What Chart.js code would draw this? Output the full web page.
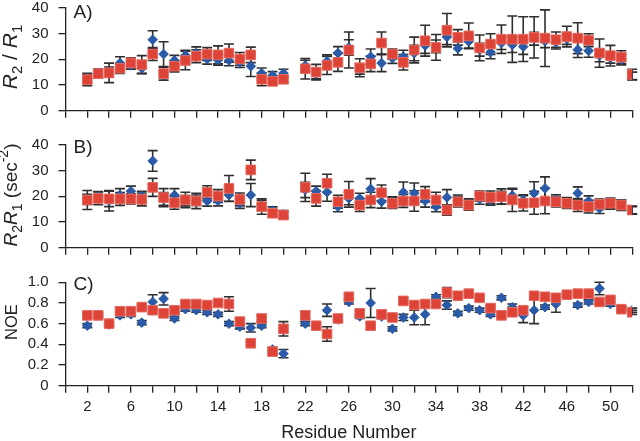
<!DOCTYPE html>
<html>
<head>
<meta charset="utf-8">
<title>Relaxation data</title>
<script src="https://cdn.jsdelivr.net/npm/chart.js@4/dist/chart.umd.min.js"></script>
<style>
  html, body { margin: 0; padding: 0; background: #fff; }
  #wrap { position: relative; width: 640px; height: 441px; overflow: hidden; }
  #wrap canvas { position: absolute; left: 0; }
</style>
</head>
<body>
<div id="wrap">
  <canvas id="panelA" width="640" height="130" style="top:0px"></canvas>
  <canvas id="panelB" width="640" height="135" style="top:130px"></canvas>
  <canvas id="panelC" width="640" height="176" style="top:265px"></canvas>
</div>
<script>
'use strict';

/* ── Data (residue 21 has no value) ── */
const residues = [2,3,4,5,6,7,8,9,10,11,12,13,14,15,16,17,18,19,20,
  22,23,24,25,26,27,28,29,30,31,32,33,34,35,36,37,38,39,40,41,42,43,44,45,46,47,48,49,50,51,52];

// A) R2 / R1
const ratioRed = [12.1,14.4,14.7,16.5,18.6,17.9,22.0,14.4,17.3,19.5,21.2,22.0,21.7,22.4,20.1,21.7,12.2,11.4,12.2,
  16.3,15.0,17.6,18.8,23.6,16.7,18.2,26.3,22.0,18.8,23.6,27.2,24.6,31.3,28.5,29.1,24.4,25.9,27.8,27.8,27.8,28.5,28.2,27.6,28.8,28.2,27.4,22.4,21.4,20.8,14.1];
const ratioRedErr = [2.4,1.8,3.8,2.0,2.0,3.5,2.5,2.5,2.2,3.6,2.5,2.5,3.5,3.5,2.5,3.0,2.5,1.5,1.5,
  4.0,3.0,3.5,3.5,7.0,3.5,3.0,4.3,2.0,3.0,5.0,6.0,5.0,6.5,3.0,5.0,5.0,4.0,5.5,9.0,8.7,8.0,11.0,3.0,4.0,6.0,2.5,5.5,4.0,2.5,2.0];
const ratioBlue = [12.5,14.6,15.0,18.5,17.6,16.5,27.6,22.0,19.5,21.5,22.3,20.1,19.7,19.5,18.8,17.3,14.6,13.7,14.6,
  17.6,14.4,19.2,22.4,24.6,16.2,21.0,18.5,20.4,21.0,22.4,25.3,25.0,28.7,24.2,26.9,23.7,22.7,26.3,25.6,24.9,28.0,27.0,26.5,27.8,23.7,23.3,21.5,20.5,19.8,13.5];
const ratioBlueErr = [1.5,1.5,2.0,2.5,1.5,2.0,3.5,4.8,2.0,2.0,2.5,2.0,2.0,2.0,2.0,4.0,2.0,1.5,1.5,
  2.0,2.0,2.5,2.5,3.0,2.0,3.0,3.3,2.0,2.5,3.0,3.0,2.5,3.0,2.5,2.5,2.5,2.5,2.5,3.0,3.0,2.5,2.5,2.5,2.0,3.0,2.5,2.5,2.0,2.0,1.5];

// B) R2R1
const productRed = [18.6,19.2,19.0,19.0,19.0,18.8,23.5,19.5,17.5,18.6,18.2,21.6,20.1,23.1,18.8,30.3,16.0,13.4,12.7,
  23.5,19.2,25.1,17.9,20.8,16.6,18.6,21.4,17.3,18.2,18.2,20.8,18.6,14.7,17.9,16.6,20.1,19.6,19.9,18.6,17.3,17.5,18.2,17.9,17.3,16.6,16.0,16.9,17.3,16.6,14.7];
const productRedErr = [3.7,2.5,3.0,2.5,2.0,2.5,3.5,3.5,2.5,3.0,3.0,2.5,2.5,5.0,2.5,3.8,3.0,1.5,1.5,
  5.5,3.0,3.5,2.5,5.0,2.5,3.0,3.0,2.0,2.5,4.0,3.0,3.0,2.0,2.0,2.0,2.0,2.5,3.0,4.5,3.0,4.5,5.0,2.0,2.0,2.5,2.5,2.0,2.0,2.0,1.5];
const productBlue = [18.8,19.9,18.3,20.5,22.0,20.0,33.8,19.0,20.5,18.3,18.5,18.2,18.3,20.5,17.3,20.5,16.5,14.4,13.0,
  22.5,22.0,21.6,16.0,19.2,19.2,22.9,17.9,17.8,21.6,21.2,18.3,16.0,19.6,18.5,17.0,18.9,18.6,19.5,20.3,18.6,21.2,23.1,18.6,17.5,21.2,18.2,15.3,17.0,16.5,14.5];
const productBlueErr = [2.0,2.0,4.0,2.5,2.0,2.0,4.0,2.5,2.5,2.0,2.0,2.0,2.0,2.5,2.0,4.5,2.0,1.5,1.5,
  3.0,2.0,3.5,2.0,2.5,2.0,4.0,2.5,2.0,4.0,4.0,2.5,2.0,3.0,2.0,2.0,2.0,2.0,2.5,2.5,2.0,4.5,4.5,2.0,2.0,2.5,2.0,2.0,2.0,2.0,1.5];

// C) NOE
const noeRed = [0.68,0.68,0.60,0.72,0.72,0.76,0.73,0.70,0.73,0.79,0.79,0.78,0.80,0.79,0.62,0.41,0.65,0.33,0.55,
  0.68,0.58,0.50,0.65,0.86,0.70,0.58,0.69,0.66,0.82,0.78,0.79,0.79,0.90,0.87,0.89,0.85,0.75,0.68,0.71,0.73,0.87,0.86,0.85,0.88,0.89,0.89,0.81,0.83,0.74,0.71];
const noeRedErr = [0.02,0.02,0.02,0.03,0.03,0.02,0.03,0.03,0.03,0.02,0.02,0.02,0.02,0.07,0.03,0.02,0.03,0.02,0.07,
  0.04,0.02,0.07,0.02,0.02,0.03,0.03,0.03,0.02,0.02,0.03,0.03,0.02,0.05,0.02,0.02,0.02,0.02,0.02,0.02,0.03,0.02,0.02,0.02,0.02,0.02,0.02,0.03,0.02,0.02,0.02];
const noeBlue = [0.58,0.68,0.59,0.68,0.69,0.61,0.81,0.84,0.65,0.74,0.73,0.71,0.69,0.60,0.57,0.56,0.58,0.35,0.31,
  0.60,0.58,0.73,0.64,0.81,0.67,0.80,0.67,0.55,0.66,0.66,0.69,0.86,0.78,0.70,0.75,0.73,0.69,0.85,0.76,0.68,0.73,0.76,0.79,0.88,0.78,0.81,0.94,0.79,0.74,0.73];
const noeBlueErr = [0.02,0.02,0.02,0.02,0.02,0.02,0.07,0.06,0.02,0.02,0.02,0.02,0.02,0.02,0.02,0.04,0.02,0.02,0.04,
  0.02,0.02,0.06,0.02,0.02,0.02,0.14,0.02,0.02,0.03,0.07,0.10,0.02,0.04,0.02,0.02,0.02,0.02,0.02,0.03,0.07,0.13,0.02,0.08,0.02,0.02,0.02,0.06,0.02,0.02,0.02];

const INK  = '#222222';
const RED  = '#de4338';
const BLUE = '#2a5aa8';
const FONT = '"Liberation Sans", Arial, sans-serif';

/* ── Error bars, drawn under the markers ── */
const errorBars = {
  id: 'errorBars',
  beforeDatasetsDraw(chart) {
    const { ctx, scales: { x, y } } = chart;
    ctx.save();
    ctx.strokeStyle = '#2e2e2e';
    ctx.lineWidth = 1.6;
    chart.data.datasets.forEach(ds => {
      ds.data.forEach((p, i) => {
        const e  = ds.errors[i];
        const px = x.getPixelForValue(p.x);
        const t  = y.getPixelForValue(p.y + e);
        const b  = y.getPixelForValue(p.y - e);
        ctx.beginPath();
        ctx.moveTo(px, t); ctx.lineTo(px, b);
        ctx.moveTo(px - 5, t); ctx.lineTo(px + 5, t);
        ctx.moveTo(px - 5, b); ctx.lineTo(px + 5, b);
        ctx.stroke();
      });
    });
    ctx.restore();
  }
};

/* ── Panel letter + rotated y title with sub/superscripts ── */
function panelText(txt) {
  return {
    id: 'panelText',
    afterDraw(chart) {
      const { ctx, chartArea } = chart;
      ctx.save();
      ctx.fillStyle = INK;
      ctx.textBaseline = 'alphabetic';
      ctx.textAlign = 'left';
      ctx.font = '19px ' + FONT;
      ctx.fillText(txt.label, chartArea.left + 8, txt.labelY);

      const segFont = s => (s.italic ? 'italic ' : '') + (s.shift ? txt.subSize : txt.size) + 'px ' + FONT;
      let total = 0;
      txt.title.forEach(s => { ctx.font = segFont(s); total += ctx.measureText(s.t).width; });

      ctx.translate(txt.x, txt.y);
      ctx.rotate(-Math.PI / 2);
      let cx = -total / 2;
      txt.title.forEach(s => {
        ctx.font = segFont(s);
        const dy = s.shift === 'sub' ? 5 : s.shift === 'sup' ? -9 : 0;
        ctx.fillText(s.t, cx, dy);
        cx += ctx.measureText(s.t).width;
      });
      ctx.restore();
    }
  };
}

function points(vals) {
  return residues.map((r, i) => ({ x: r, y: vals[i] }));
}

function axisGrid() {
  return { display: true, drawOnChartArea: false, drawTicks: true, tickLength: 7, color: INK, lineWidth: 1.3 };
}

function buildPanel(id, cfg) {
  const canvas = document.getElementById(id);
  return new Chart(canvas, {
    type: 'scatter',
    data: {
      datasets: [
        {
          data: points(cfg.red), errors: cfg.redErr,
          pointStyle: 'rect', pointRadius: 6.8, pointHoverRadius: 6.8,
          backgroundColor: RED, borderColor: '#e56a60', borderWidth: 1,
        },
        {
          data: points(cfg.blue), errors: cfg.blueErr,
          pointStyle: 'rectRot', pointRadius: 4.8, pointHoverRadius: 4.8,
          backgroundColor: BLUE, borderColor: BLUE, borderWidth: 1,
        },
      ],
    },
    options: {
      responsive: false,
      animation: false,
      devicePixelRatio: 1,
      layout: { padding: { top: cfg.padTop, right: 5.7, left: 0, bottom: 0 } },
      plugins: {
        legend: { display: false },
        tooltip: { enabled: false },
      },
      scales: {
        x: {
          type: 'linear', min: 0, max: 52,
          grid: axisGrid(),
          border: { display: true, color: INK, width: 1.3 },
          ticks: {
            display: cfg.xLabels, stepSize: 2, autoSkip: false, maxRotation: 0,
            color: INK, font: { size: 15, family: FONT }, padding: 5,
            callback: v => ((v - 2) % 4 === 0 ? String(v) : ''),
          },
          title: {
            display: cfg.xLabels, text: 'Residue Number', color: INK,
            font: { size: 18, family: FONT, lineHeight: 0.85 }, padding: { top: 0, bottom: 0 },
          },
          afterFit: s => { s.height = cfg.xHeight; s.paddingLeft = 0; s.paddingRight = 0; },
        },
        y: {
          min: 0, max: cfg.yMax,
          grid: axisGrid(),
          border: { display: true, color: INK, width: 1.3 },
          ticks: {
            stepSize: cfg.yStep, autoSkip: false, color: INK, padding: 10,
            font: { size: 15, family: FONT },
            callback: cfg.yFormat,
          },
          afterFit: s => { s.width = 65.5; s.paddingTop = 0; s.paddingBottom = 0; },
        },
      },
    },
    plugins: [errorBars, panelText(cfg.text)],
  });
}

const r2r1Title = [
  { t: 'R', italic: true }, { t: '2', shift: 'sub' },
  { t: ' / ' },
  { t: 'R', italic: true }, { t: '1', shift: 'sub' },
];
const productTitle = [
  { t: 'R', italic: true }, { t: '2', shift: 'sub' },
  { t: 'R', italic: true }, { t: '1', shift: 'sub' },
  { t: ' (sec' }, { t: '-2', shift: 'sup' }, { t: ')' },
];

buildPanel('panelA', {
  red: ratioRed, redErr: ratioRedErr, blue: ratioBlue, blueErr: ratioBlueErr,
  padTop: 6.7, xHeight: 19.3, xLabels: false, yMax: 40, yStep: 10,
  yFormat: v => String(v),
  text: { label: 'A)', labelY: 18, title: r2r1Title, size: 21, subSize: 15, x: 17, y: 57 },
});

buildPanel('panelB', {
  red: productRed, redErr: productRedErr, blue: productBlue, blueErr: productBlueErr,
  padTop: 15, xHeight: 17.3, xLabels: false, yMax: 40, yStep: 10,
  yFormat: v => String(v),
  text: { label: 'B)', labelY: 23, title: productTitle, size: 19, subSize: 14, x: 17, y: 65 },
});

buildPanel('panelC', {
  red: noeRed, redErr: noeRedErr, blue: noeBlue, blueErr: noeBlueErr,
  padTop: 17.3, xHeight: 55.3, xLabels: true, yMax: 1, yStep: 0.2,
  yFormat: v => (Math.abs(v) < 1e-9 ? '0' : v.toFixed(1)),
  text: { label: 'C)', labelY: 25, title: [{ t: 'NOE' }], size: 16.5, subSize: 12, x: 16.5, y: 57 },
});
</script>
</body>
</html>
